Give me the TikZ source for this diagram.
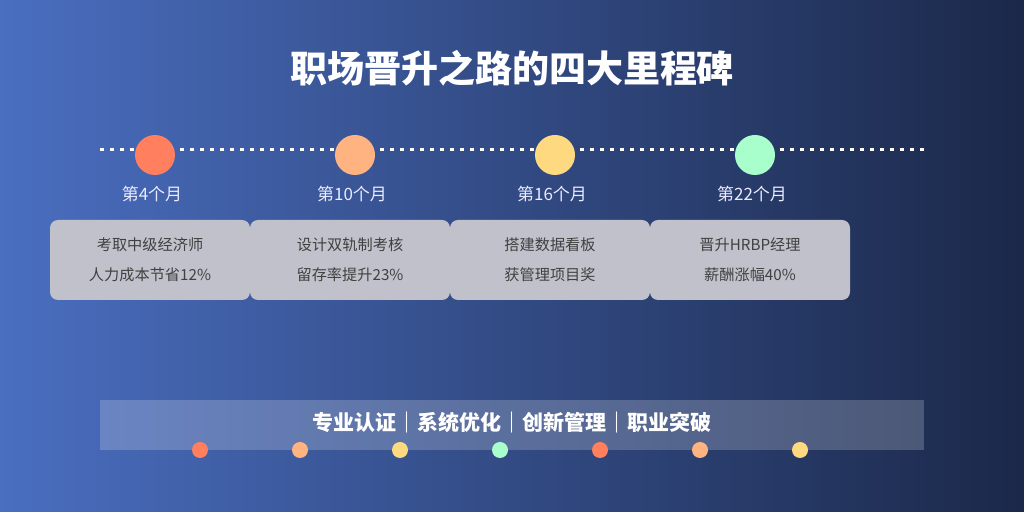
\documentclass[tikz,border=0pt]{standalone}
\usepackage{fontspec}
\setmainfont{Noto Sans CJK SC}
\newfontfamily\cjkb[BoldFont={Noto Sans CJK SC Bold}]{Noto Sans CJK SC}
\begin{document}
\begin{tikzpicture}[x=0.5pt,y=-0.5pt,
  dotc/.style={circle,inner sep=0pt,minimum size=20pt},
  lab/.style={text=white!92!blue,font=\fontsize{8.5pt}{10pt}\selectfont},
  card/.style={rounded corners=4pt,fill=white!93!blue!60!gray,draw=none,minimum width=100pt,minimum height=40pt,inner sep=0pt,align=center,text=black!75,font=\fontsize{7.6pt}{15pt}\selectfont},
  small/.style={circle,inner sep=0pt,minimum size=8pt}]
\definecolor{c1}{HTML}{FF7F5E}\definecolor{c2}{HTML}{FFB380}\definecolor{c3}{HTML}{FFD97F}\definecolor{c4}{HTML}{A8FFCC}
\definecolor{bgl}{HTML}{4A6EC0}\definecolor{bgr}{HTML}{1B2849}
\shade[left color=bgl,right color=bgr] (0,0) rectangle (1024,512);
\useasboundingbox (0,0) rectangle (1024,512);
\node[text=white,font=\fontsize{18.5pt}{22pt}\selectfont\bfseries] (title) at (512,68) {职场晋升之路的四大里程碑};
\coordinate (l0) at (100,150); \coordinate (l1) at (924,150);
\draw[white,line width=1.5pt,dash pattern=on 2pt off 3pt] (l0) -- (l1);
\foreach \x/\c/\t/\a/\b [count=\i] in {155/c1/第4个月/考取中级经济师/人力成本节省12\%,355/c2/第10个月/设计双轨制考核/留存率提升23\%,555/c3/第16个月/搭建数据看板/获管理项目奖,755/c4/第22个月/晋升HRBP经理/薪酬涨幅40\%}{
  \node[dotc,fill=\c] (d\i) at (\x,155) {};
  \node[lab] (m\i) at (\x-3,194) {\t};
  \node[card] (k\i) at (\x-5,260) {\a\\\b};
}
\node[fill=white,fill opacity=0.2,minimum width=412pt,minimum height=25pt,inner sep=0pt] (bar) at (512,425) {};
\node[text=white,font=\fontsize{10.5pt}{12pt}\selectfont\bfseries] (bt) at (512,423) {专业认证｜系统优化｜创新管理｜职业突破};
\foreach \x/\c [count=\i] in {200/c1,300/c2,400/c3,500/c4,600/c1,700/c2,800/c3}{
  \node[small,fill=\c] (s\i) at (\x,450) {};
}
\end{tikzpicture}
\end{document}
